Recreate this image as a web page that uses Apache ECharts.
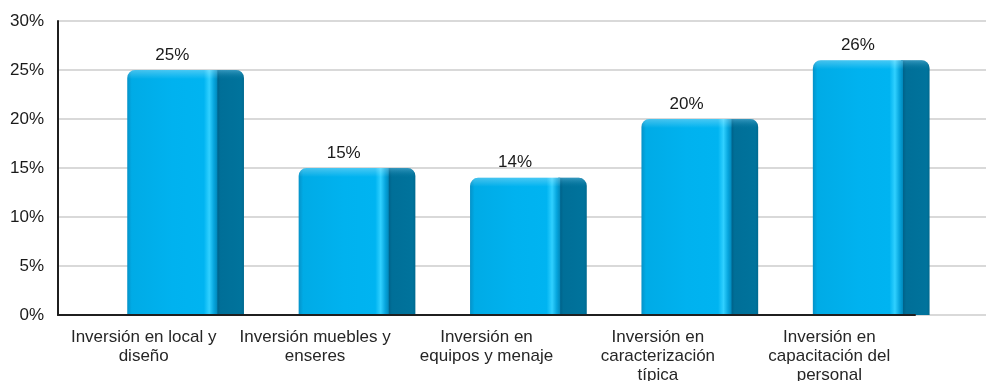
<!DOCTYPE html>
<html>
<head>
<meta charset="utf-8">
<script src="https://cdn.jsdelivr.net/npm/echarts@6/dist/echarts.min.js"></script>
<style>
  html, body { margin: 0; padding: 0; background: #ffffff; }
  #chart { width: 986px; height: 381px; }
</style>
</head>
<body>
<div id="chart"></div>
<script>
// Investment categories (multi-line labels) and their share of the budget
const categories = [
  'Inversión en local y\ndiseño',
  'Inversión muebles y\nenseres',
  'Inversión en\nequipos y menaje',
  'Inversión en\ncaracterización\ntípica',
  'Inversión en\ncapacitación del\npersonal'
];
const shares = [25, 15, 14, 20, 26];
const yTicks = [0, 5, 10, 15, 20, 25, 30];

const FONT = '"Liberation Sans", Arial, sans-serif';
const chart = echarts.init(document.getElementById('chart'));

// Each bar is drawn as a front face plus a darker side face for a 3D look
function renderBar(params, api) {
  const idx = api.value(0);
  const val = api.value(1);
  const base = api.coord([idx, 0]);
  const top = api.coord([idx, val]);
  const band = api.size([1, 0])[0];
  const cx = base[0];
  const fl = cx - band * 0.096;
  const fr = cx + band * 0.43;
  const sr = cx + band * 0.585;
  const y0 = top[1];
  const h = base[1] - y0;
  const r = 8;
  return {
    type: 'group',
    children: [
      {
        type: 'rect',
        shape: { x: fr - 2, y: y0, width: sr - fr + 2, height: h, r: [0, r, 0, 0] },
        style: {
          fill: new echarts.graphic.LinearGradient(0, 0, 1, 0, [
            { offset: 0, color: '#005a80' },
            { offset: 0.18, color: '#006f98' },
            { offset: 0.9, color: '#00739c' },
            { offset: 1, color: '#006a90' }
          ])
        }
      },
      {
        type: 'rect',
        shape: { x: fr - 2, y: y0, width: sr - fr + 2, height: 10, r: [0, r, 0, 0] },
        style: {
          fill: new echarts.graphic.LinearGradient(0, 0, 0, 1, [
            { offset: 0, color: 'rgba(120,200,235,0.45)' },
            { offset: 1, color: 'rgba(0,115,156,0)' }
          ])
        }
      },
      {
        type: 'rect',
        shape: { x: fl, y: y0, width: fr - fl, height: h, r: [r, 0, 0, 0] },
        style: {
          fill: new echarts.graphic.LinearGradient(0, 0, 1, 0, [
            { offset: 0, color: '#0592c8' },
            { offset: 0.05, color: '#00abe6' },
            { offset: 0.5, color: '#00b2ef' },
            { offset: 0.85, color: '#00b4f1' },
            { offset: 0.91, color: '#30d0ff' },
            { offset: 0.96, color: '#07a6de' },
            { offset: 1, color: '#0088bb' }
          ])
        }
      },
      {
        type: 'rect',
        shape: { x: fl, y: y0, width: fr - fl, height: 9, r: [r, 0, 0, 0] },
        style: {
          fill: new echarts.graphic.LinearGradient(0, 0, 0, 1, [
            { offset: 0, color: 'rgba(255,255,255,0.28)' },
            { offset: 1, color: 'rgba(255,255,255,0)' }
          ])
        }
      },
      {
        type: 'text',
        style: {
          x: (fl + fr) / 2,
          y: y0 - 15,
          text: val + '%',
          align: 'center',
          verticalAlign: 'middle',
          font: '17px ' + FONT,
          fill: '#1a1a1a'
        }
      }
    ]
  };
}

chart.setOption({
  animation: false,
  backgroundColor: '#ffffff',
  grid: { left: 58, right: 71, top: 21, bottom: 66, containLabel: false, outerBoundsMode: 'none' },
  xAxis: {
    type: 'category',
    data: categories,
    axisLine: { show: true, lineStyle: { color: '#1f1f1f', width: 2 } },
    axisTick: { show: false },
    axisLabel: {
      interval: 0,
      margin: 13,
      color: '#262626',
      fontFamily: FONT,
      fontSize: 17,
      lineHeight: 19
    },
    z: 5
  },
  yAxis: {
    type: 'value',
    min: yTicks[0],
    max: yTicks[yTicks.length - 1],
    interval: yTicks[1] - yTicks[0],
    axisLine: { show: true, lineStyle: { color: '#1f1f1f', width: 2 } },
    axisTick: { show: false },
    axisLabel: {
      margin: 14,
      color: '#1a1a1a',
      fontFamily: FONT,
      fontSize: 17,
      formatter: v => v + '%'
    },
    splitLine: { show: true, lineStyle: { color: '#d9d9d9', width: 2 } }
  },
  series: [{
    type: 'custom',
    renderItem: renderBar,
    clip: false,
    data: shares.map((v, i) => [i, v]),
    z: 3
  }]
});

// Gridlines continue past the category axis to the right edge
const plotRight = 986 - 71;
const gridExt = yTicks.map(t => {
  const p = chart.convertToPixel({ xAxisIndex: 0, yAxisIndex: 0 }, [categories.length - 1, t]);
  return {
    type: 'line',
    shape: { x1: plotRight, y1: p[1], x2: 986, y2: p[1] },
    style: { stroke: '#d9d9d9', lineWidth: 2 },
    z: 0
  };
});
chart.setOption({ graphic: gridExt });
</script>
</body>
</html>
